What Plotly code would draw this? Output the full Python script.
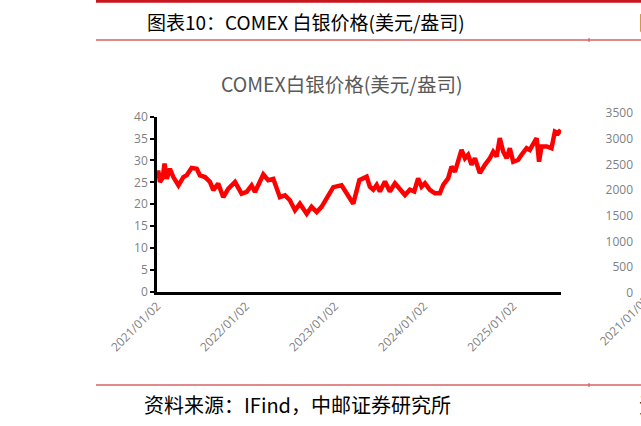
import plotly.graph_objects as go

W, H = 641, 426

# ---- data ----
dates = [
    "2021-01-04", "2021-01-07", "2021-01-14", "2021-01-25", "2021-02-02", "2021-02-11",
    "2021-02-24", "2021-03-10", "2021-03-31", "2021-04-20", "2021-05-04", "2021-05-24",
    "2021-06-14", "2021-06-27", "2021-07-18", "2021-08-07", "2021-08-21", "2021-09-10",
    "2021-10-01", "2021-10-21", "2021-11-18", "2021-12-15", "2022-01-05", "2022-01-25",
    "2022-02-08", "2022-03-14", "2022-04-03", "2022-04-24", "2022-05-21", "2022-06-11",
    "2022-07-01", "2022-07-22", "2022-08-11", "2022-09-08", "2022-09-28", "2022-10-19",
    "2022-11-08", "2022-11-29", "2022-12-26", "2023-01-29", "2023-02-25", "2023-03-18",
    "2023-04-12", "2023-04-28", "2023-05-12", "2023-05-25", "2023-06-08", "2023-06-22",
    "2023-07-05", "2023-07-26", "2023-08-15", "2023-09-05", "2023-09-25", "2023-10-16",
    "2023-11-05", "2023-11-23", "2023-12-09", "2023-12-23", "2024-01-06", "2024-01-26",
    "2024-02-16", "2024-03-07", "2024-03-21", "2024-04-10", "2024-04-24", "2024-05-08",
    "2024-06-04", "2024-06-18", "2024-07-01", "2024-07-15", "2024-07-29", "2024-08-18",
    "2024-09-08", "2024-09-28", "2024-10-12", "2024-10-26", "2024-11-08", "2024-11-22",
    "2024-12-06", "2024-12-19", "2025-01-02", "2025-01-22", "2025-02-05", "2025-02-26",
    "2025-03-11", "2025-03-25", "2025-04-08", "2025-04-18", "2025-04-28", "2025-05-19",
    "2025-06-08", "2025-06-22", "2025-07-05", "2025-07-16",
]
silver_price = [
    26.5, 27.7, 25.1, 26.0, 29.3, 25.8,
    28.1, 26.2, 24.3, 26.2, 26.6, 28.3,
    28.1, 26.6, 26.2, 25.1, 23.2, 24.7,
    21.6, 23.5, 25.1, 22.4, 22.8, 24.3,
    22.8, 26.8, 25.5, 25.8, 21.6, 22.0,
    20.9, 18.6, 20.1, 17.8, 19.4, 18.2,
    19.4, 21.6, 23.9, 24.3, 22.0, 20.1,
    25.5, 25.9, 26.3, 24.0, 23.3, 24.4,
    22.9, 25.2, 22.9, 24.8, 23.3, 22.1,
    23.3, 22.9, 25.9, 24.0, 24.8, 23.3,
    22.5, 22.5, 24.4, 25.9, 28.6, 27.4,
    32.4, 30.5, 31.3, 29.0, 30.5, 27.1,
    29.0, 30.5, 32.0, 30.9, 35.1, 32.0,
    30.5, 32.8, 29.7, 30.1, 31.3, 32.8,
    32.4, 34.0, 35.1, 29.7, 33.2, 33.2,
    32.8, 36.6, 36.2, 37.0,
]
x_tick_dates = ["2021-01-02", "2022-01-02", "2023-01-02", "2024-01-02", "2025-01-02"]
x_tick_labels = ["2021/01/02", "2022/01/02", "2023/01/02", "2024/01/02", "2025/01/02"]
y_ticks = [0, 5, 10, 15, 20, 25, 30, 35, 40]
right_y_ticks = [0, 500, 1000, 1500, 2000, 2500, 3000, 3500]

header_text = "图表10：COMEX 白银价格(美元/盎司)"
chart_title = "COMEX白银价格(美元/盎司)"
source_text = "资料来源：IFind，中邮证券研究所"


def px(x):
    return x / W


def py(y):
    return 1 - y / H


fig = go.Figure()
fig.add_trace(go.Scatter(
    x=dates, y=silver_price, mode="lines",
    line=dict(color="#FF0000", width=4.5),
    showlegend=False, hoverinfo="skip",
))
# invisible trace to carry the partially visible right-hand chart axis
fig.add_trace(go.Scatter(x=[0], y=[None], xaxis="x2", yaxis="y2", showlegend=False))

tick_font = dict(family="Open Sans, Noto Sans CJK SC", size=12, color="#7F7F7F")

fig.update_layout(
    template="none",
    width=W, height=H,
    margin=dict(l=0, r=0, t=0, b=0, pad=0),
    paper_bgcolor="white", plot_bgcolor="white",
    xaxis=dict(
        domain=[px(157), px(561)],
        type="date",
        range=["2021-01-02", "2025-07-17"],
        tickvals=x_tick_dates, ticktext=x_tick_labels,
        tickangle=-45, tickfont=dict(family="Open Sans, Noto Sans CJK SC", size=12, color="#7F7F7F"),
        showgrid=False, zeroline=False,
        showline=True, linecolor="black", linewidth=2.5,
        ticks="", anchor="y", automargin=False,
    ),
    yaxis=dict(
        domain=[py(291.7), py(116.7)],
        range=[0, 40], tickvals=y_ticks,
        tickfont=tick_font,
        showgrid=False, zeroline=False,
        showline=True, linecolor="black", linewidth=2.5,
        ticks="outside", ticklen=4, tickwidth=1.5, tickcolor="black",
        anchor="x", automargin=False,
    ),
    xaxis2=dict(domain=[px(634), 1.0], range=[0, 1], visible=False, anchor="y2",
                automargin=False),
    yaxis2=dict(
        domain=[py(293), py(113)], range=[0, 3500], tickvals=right_y_ticks,
        tickfont=tick_font, showgrid=False, zeroline=False, showline=False,
        ticks="", anchor="x2", automargin=False,
    ),
)

# page decorations: header/footer rules
fig.add_shape(type="rect", xref="paper", yref="paper",
              x0=px(96), x1=1.0, y0=py(2.8), y1=py(0), line_width=0, fillcolor="#C8161D")
for yy in (40, 385):
    fig.add_shape(type="line", xref="paper", yref="paper",
                  x0=px(96), x1=1.0, y0=py(yy), y1=py(yy),
                  line=dict(color="#E08A8C", width=2))
    fig.add_shape(type="line", xref="paper", yref="paper",
                  x0=px(589), x1=px(589), y0=py(yy - 2), y1=py(yy + 2),
                  line=dict(color="#C8504F", width=1))

fig.add_annotation(text=header_text, xref="paper", yref="paper", x=px(145), y=py(22),
                   xanchor="left", yanchor="middle", showarrow=False,
                   font=dict(family="Noto Sans CJK SC", size=19, color="black"))
fig.add_annotation(text=source_text, xref="paper", yref="paper", x=px(142), y=py(404),
                   xanchor="left", yanchor="middle", showarrow=False,
                   font=dict(family="Noto Sans CJK SC", size=20, color="black"))
# partially visible text of the neighbouring column
fig.add_annotation(text="图表11：", xref="paper", yref="paper", x=px(637), y=py(22),
                   xanchor="left", yanchor="middle", showarrow=False,
                   font=dict(family="Noto Sans CJK SC", size=19, color="black"))
fig.add_annotation(text="资料来源：", xref="paper", yref="paper", x=px(637), y=py(404),
                   xanchor="left", yanchor="middle", showarrow=False,
                   font=dict(family="Noto Sans CJK SC", size=20, color="black"))
fig.add_annotation(text="2021/01/02", xref="paper", yref="paper", x=px(624), y=py(320),
                   xanchor="center", yanchor="middle", textangle=-45, showarrow=False,
                   font=dict(family="Open Sans, Noto Sans CJK SC", size=12, color="#7F7F7F"))

fig.add_annotation(text=chart_title, xref="paper", yref="paper", x=px(342), y=py(84),
                   xanchor="center", yanchor="middle", showarrow=False,
                   font=dict(family="Noto Sans CJK SC", size=19.5, color="#595959"))

fig.write_html("out.html", config={"displayModeBar": False},
               post_script="document.body.style.margin='0';")
